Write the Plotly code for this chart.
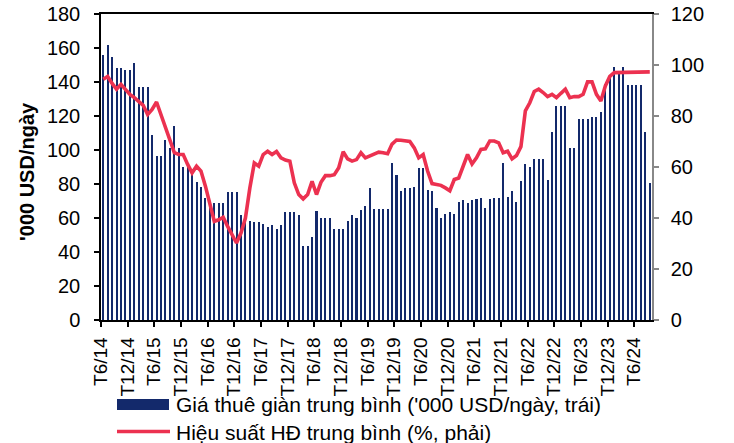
import plotly.graph_objects as go

# ---- data (monthly, T6/14 .. T9/24) ----
months = [f"T{((5 + k) % 12) + 1}/{14 + (5 + k) // 12}" for k in range(124)]

day_rate = [
    156, 162, 155, 148, 148, 147, 147, 151, 137, 137, 137, 109,
    96.5, 96.5, 106, 101, 114, 101, 90, 90, 87, 81, 78.5, 72,
    69, 69, 69, 69, 75.5, 75.5, 75.5, 62, 59.5, 58.4, 57.8, 57.5,
    56.7, 54.7, 55.7, 53.7, 55.7, 63.5, 63.5, 63.5, 61.8, 43.3, 43.3, 49,
    63.9, 60.2, 59.8, 60.2, 53.7, 53.7, 53.7, 58.4, 62, 60.2, 64.7, 67.1,
    77.9, 65.5, 65.5, 65.3, 65.5, 92.4, 85.3, 75.7, 77.5, 77.5, 78.1, 89.5,
    89.5, 76.3, 75.9, 66.1, 60, 62.2, 63.5, 62.6, 69.2, 70.6, 68.7, 70.6,
    71.2, 71.8, 66.1, 71.4, 71.8, 71.8, 92.6, 72.2, 76.1, 69.6, 81.8, 91.6,
    90, 95, 95, 95, 82.6, 110.3, 125.6, 125.6, 125.6, 100.9, 100.9, 118.5,
    118.5, 118.5, 119.3, 119.3, 122.1, 138.8, 143, 148.6, 145, 148.6, 138.2, 138.2,
    138.2, 138.2, 110.7, 80.8,
]

utilization = [
    94.4, 95.5, 92.8, 90.5, 92.4, 90.5, 88.5, 87.2, 85.9, 84.2, 80.6, 82.6,
    85.5, 80.6, 75.4, 70.2, 65.6, 64.9, 64.9, 61, 57.7, 60.3, 58.4, 52.5,
    45.9, 38.7, 39.3, 40.3, 36.7, 33.4, 30.2, 34.1, 40, 51.8, 61.6, 60.3,
    64.9, 66.2, 64.9, 66.1, 63.6, 62.7, 62.3, 53.8, 49.2, 47.5, 49.2, 54.4,
    49.2, 54, 56.6, 56.6, 57, 59.7, 66, 63.2, 62.3, 62.9, 65.6, 63.6,
    64.3, 65.2, 65.8, 65.6, 65.2, 69, 70.6, 70.5, 70.2, 70, 67.5, 63.6,
    64.9, 58.4, 53.5, 53.1, 52.8, 51.8, 50.7, 55.1, 55.7, 60.3, 64.9, 61.2,
    63.6, 66.9, 67.1, 70.2, 70.2, 69.5, 65.6, 66.2, 63.2, 64.5, 68, 82,
    85.2, 89.6, 90.5, 89.2, 87.6, 88.5, 87.2, 88.9, 90.5, 87.2, 87.6, 87.6,
    88.5, 93.4, 93.4, 88.5, 85.9, 91.8, 95.5, 97, 97, 97.3, 97.3, 97.3,
    97.3, 97.3, 97.3, 97.3,
]

tick_every = 6
left_ticks = [0, 20, 40, 60, 80, 100, 120, 140, 160, 180]
right_ticks = [0, 20, 40, 60, 80, 100, 120]

bar_name = "Giá thuê giàn trung bình ('000 USD/ngày, trái)"
line_name = "Hiệu suất HĐ trung bình (%, phải)"
y_title = "'000 USD/ngày"

BAR_COLOR = "#13296B"
LINE_COLOR = "#EC3150"
FONT = "Liberation Sans, Arial, sans-serif"

x_pos = [k + 0.5 for k in range(len(months))]
tickvals = list(range(0, len(months), tick_every))
ticktext = [months[k] for k in tickvals]

fig = go.Figure()
fig.add_trace(go.Bar(
    x=x_pos, y=day_rate, name=bar_name, marker=dict(color=BAR_COLOR, line=dict(width=0)),
    width=0.46, showlegend=False, yaxis="y",
))
fig.add_trace(go.Scatter(
    x=x_pos, y=utilization, name=line_name, mode="lines",
    line=dict(color=LINE_COLOR, width=3.6), showlegend=False, yaxis="y2",
))

W, H = 734, 443
L, R, T, B = 101, 82, 14, 123
pw, ph = W - L - R, H - T - B

def px_x(x):
    return (x - L) / pw

def px_y(y):
    return (H - B - y) / ph

fig.update_layout(
    width=W, height=H,
    margin=dict(l=L, r=R, t=T, b=B, pad=0, autoexpand=False),
    paper_bgcolor="white", plot_bgcolor="white",
    font=dict(family=FONT, size=20, color="#000000"),
    bargap=0,
    xaxis=dict(
        range=[0, len(months)], tickmode="array", tickvals=tickvals, ticktext=ticktext,
        tickangle=-90, ticks="outside", ticklen=5, tickcolor="#000", tickwidth=1.5,
        showline=True, linecolor="#000", linewidth=1.5, mirror=True, automargin=False,
        showgrid=False, zeroline=False, tickfont=dict(size=19), ticklabelstandoff=3,
    ),
    yaxis=dict(
        range=[0, 180], tickmode="array", tickvals=left_ticks, automargin=False,
        ticks="outside", ticklen=5, tickcolor="#000", tickwidth=1.5,
        showline=True, linecolor="#000", linewidth=1.5,
        showgrid=False, zeroline=False, tickfont=dict(size=20), ticklabelstandoff=10,
    ),
    yaxis2=dict(
        range=[0, 120], tickmode="array", tickvals=right_ticks, overlaying="y", side="right",
        ticks="outside", ticklen=5, tickcolor="#888", tickwidth=1.5, automargin=False,
        showline=True, linecolor="#888", linewidth=1.5,
        showgrid=False, zeroline=False, tickfont=dict(size=20), ticklabelstandoff=8,
    ),
)

# y-axis title
fig.add_annotation(
    text=f"<b>{y_title}</b>", xref="paper", yref="paper",
    x=px_x(27.5), y=px_y(171.5), xanchor="center", yanchor="middle",
    textangle=-90, showarrow=False, font=dict(size=20, family=FONT),
)

# custom legend
fig.add_shape(type="rect", xref="paper", yref="paper",
              x0=px_x(117), x1=px_x(169), y0=px_y(410), y1=px_y(399),
              fillcolor=BAR_COLOR, line=dict(width=0))
fig.add_shape(type="line", xref="paper", yref="paper",
              x0=px_x(117), x1=px_x(170), y0=px_y(431.5), y1=px_y(431.5),
              line=dict(color=LINE_COLOR, width=3.6))
fig.add_annotation(text=bar_name, xref="paper", yref="paper",
                   x=px_x(174), y=px_y(404.5), xanchor="left", yanchor="middle",
                   showarrow=False, font=dict(size=21, family=FONT))
fig.add_annotation(text=line_name, xref="paper", yref="paper",
                   x=px_x(174), y=px_y(432), xanchor="left", yanchor="middle",
                   showarrow=False, font=dict(size=21, family=FONT))

fig.write_html(
    "out.html",
    config={"displayModeBar": False},
    post_script="document.body.style.margin='0';document.body.style.overflow='hidden';",
)
